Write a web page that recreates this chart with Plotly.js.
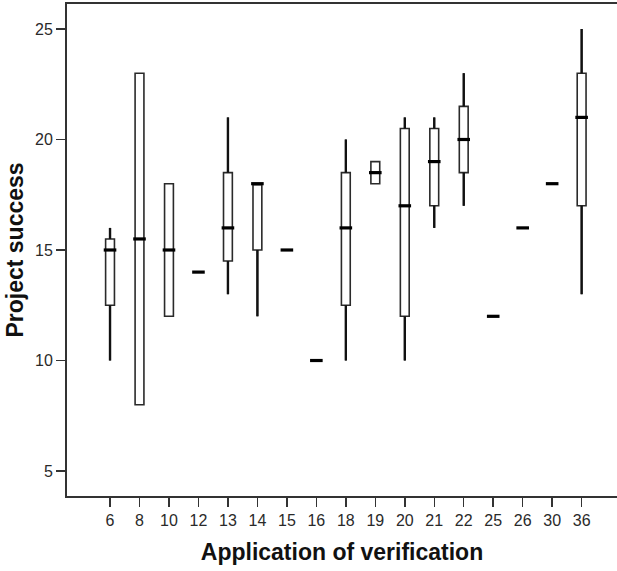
<!DOCTYPE html>
<html>
<head>
<meta charset="utf-8">
<script src="https://cdn.plot.ly/plotly-3.0.1.min.js"></script>
<style>
  html, body { margin: 0; padding: 0; background: #ffffff; }
  #chart { width: 617px; height: 571px; }
</style>
</head>
<body>
<div id="chart"></div>
<script>
// Categories: application of verification
const categories = ["6","8","10","12","13","14","15","16","18","19","20","21","22","25","26","30","36"];
// Box statistics for project success
const lowerWhisker = [10, 8, 12, 14, 13, 12, 15, 10, 10, 18, 10, 16, 17, 12, 16, 18, 13];
const q1Values     = [12.5, 8, 12, 14, 14.5, 15, 15, 10, 12.5, 18, 12, 17, 18.5, 12, 16, 18, 17];
const medianValues = [15, 15.5, 15, 14, 16, 18, 15, 10, 16, 18.5, 17, 19, 20, 12, 16, 18, 21];
const q3Values     = [15.5, 23, 18, 14, 18.5, 18, 15, 10, 18.5, 19, 20.5, 20.5, 21.5, 12, 16, 18, 23];
const upperWhisker = [16, 23, 18, 14, 21, 18, 15, 10, 20, 19, 21, 21, 23, 12, 16, 18, 25];
const yTicks = [5, 10, 15, 20, 25];

const boxTrace = {
  type: "box",
  x: categories,
  q1: q1Values,
  median: medianValues,
  q3: q3Values,
  lowerfence: lowerWhisker,
  upperfence: upperWhisker,
  boxpoints: false,
  width: 0.3,
  whiskerwidth: 0,
  fillcolor: "#ffffff",
  line: { color: "#2a2a2a", width: 1.6 },
  hoverinfo: "skip",
  showlegend: false
};

// Thicker whiskers drawn over the box whiskers (SPSS style)
const upperWhiskerTrace = {
  type: "scatter",
  mode: "markers",
  x: categories,
  y: q3Values,
  marker: { size: 0.1, color: "rgba(0,0,0,0)" },
  error_y: {
    type: "data", symmetric: false,
    array: upperWhisker.map((u, i) => u - q3Values[i]),
    arrayminus: upperWhisker.map(() => 0),
    width: 0, thickness: 2.4, color: "#111111"
  },
  hoverinfo: "skip",
  showlegend: false
};
const lowerWhiskerTrace = {
  type: "scatter",
  mode: "markers",
  x: categories,
  y: q1Values,
  marker: { size: 0.1, color: "rgba(0,0,0,0)" },
  error_y: {
    type: "data", symmetric: false,
    array: lowerWhisker.map(() => 0),
    arrayminus: lowerWhisker.map((l, i) => q1Values[i] - l),
    width: 0, thickness: 2.4, color: "#111111"
  },
  hoverinfo: "skip",
  showlegend: false
};

const medianTrace = {
  type: "scatter",
  mode: "markers",
  x: categories,
  y: medianValues,
  marker: { symbol: "line-ew", size: 9, line: { color: "#000000", width: 3.2 } },
  hoverinfo: "skip",
  showlegend: false
};

const font = "Liberation Sans, Arial, sans-serif";

const layout = {
  width: 617,
  height: 571,
  margin: { l: 67, r: 0, t: 4, b: 75 },
  paper_bgcolor: "#ffffff",
  plot_bgcolor: "#ffffff",
  showlegend: false,
  xaxis: {
    type: "category",
    categoryorder: "array",
    categoryarray: categories,
    range: [-1.46, 17.2],
    showgrid: false,
    zeroline: false,
    showline: true,
    linecolor: "#333333",
    linewidth: 2,
    mirror: true,
    ticks: "outside",
    ticklen: 9,
    tickwidth: 1.5,
    tickcolor: "#333333",
    tickfont: { family: font, size: 16, color: "#2a2a2a" },
    title: { text: "<b>Application of verification</b>", font: { family: font, size: 23, color: "#111111" }, standoff: 16 },
    fixedrange: true
  },
  yaxis: {
    range: [3.87, 26.13],
    tickvals: yTicks,
    ticktext: yTicks.map(String),
    showgrid: false,
    zeroline: false,
    showline: true,
    linecolor: "#333333",
    linewidth: 2,
    ticks: "outside",
    ticklen: 9,
    tickwidth: 1.5,
    tickcolor: "#333333",
    tickfont: { family: font, size: 16, color: "#2a2a2a" },
    title: { text: "<b>Project success</b>", font: { family: font, size: 23, color: "#111111" }, standoff: 5 },
    fixedrange: true
  }
};

Plotly.newPlot("chart", [boxTrace, upperWhiskerTrace, lowerWhiskerTrace, medianTrace], layout, { staticPlot: true, displayModeBar: false });
</script>
</body>
</html>
